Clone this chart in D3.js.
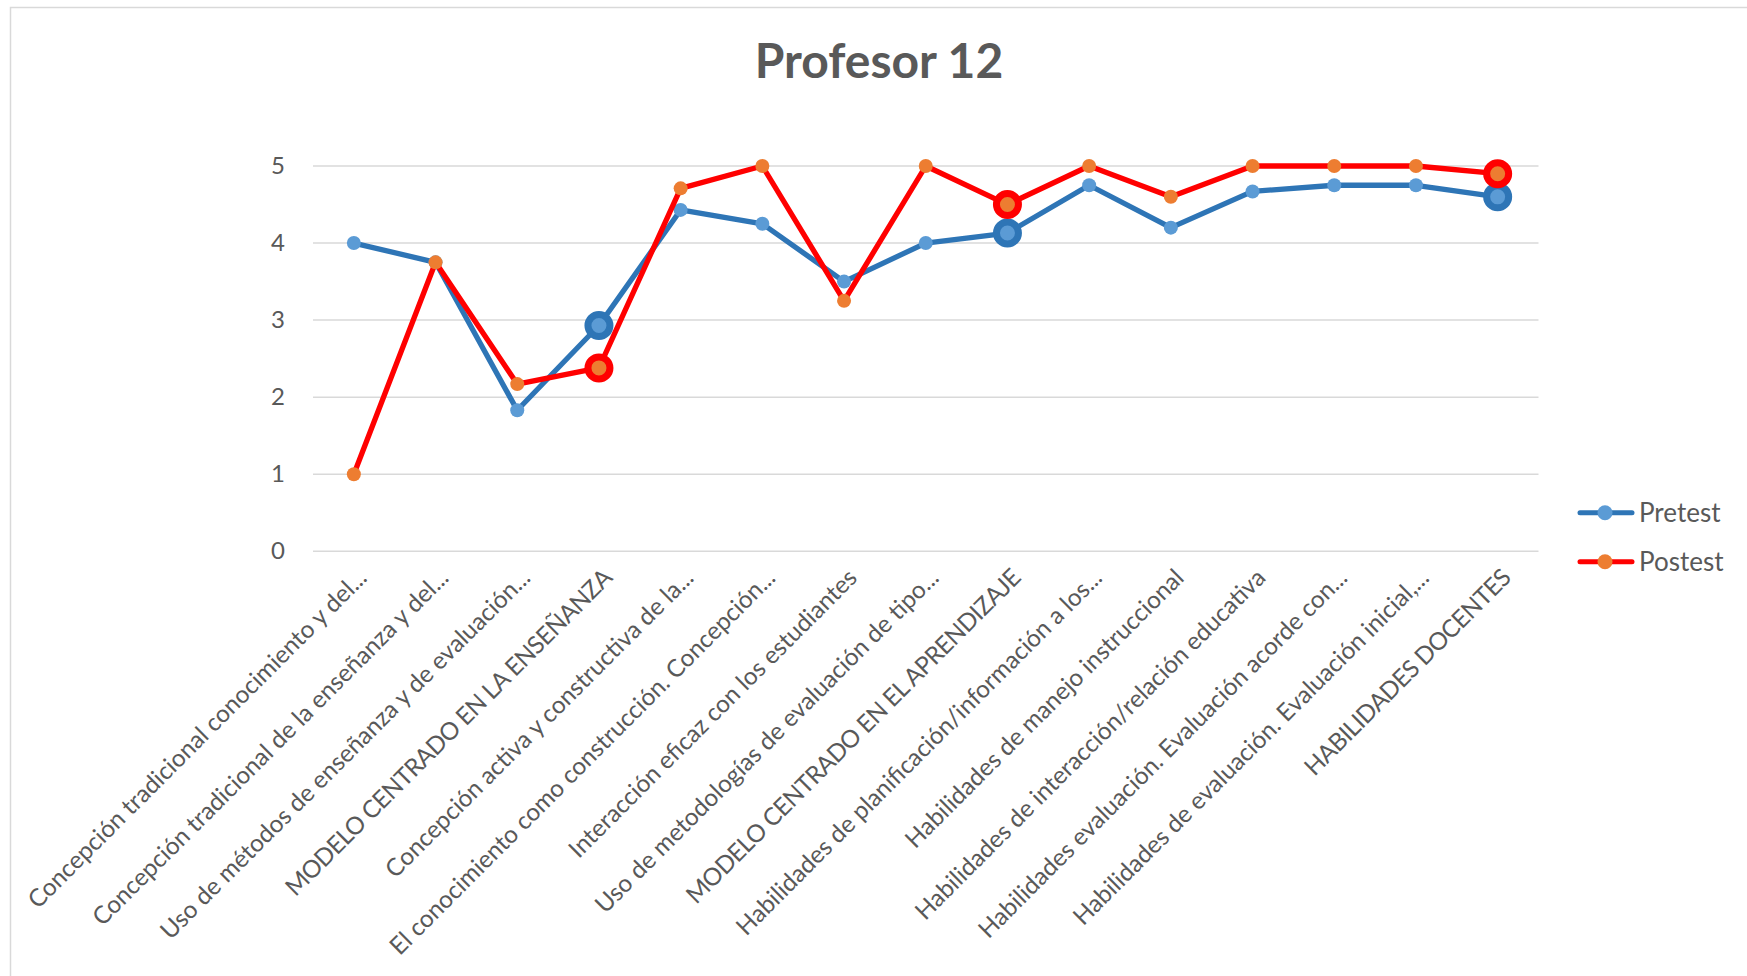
<!DOCTYPE html>
<html>
<head>
<meta charset="utf-8">
<script src="https://cdn.jsdelivr.net/npm/d3@7"></script>
<style>
  html, body { margin: 0; padding: 0; background: #fff; }
  svg { display: block; font-family: Lato, "Open Sans", sans-serif; }
</style>
</head>
<body>
<svg id="chart" width="1747" height="976"></svg>
<script>
const categories = [
  "Concepción tradicional conocimiento y del...",
  "Concepción tradicional de la enseñanza y del...",
  "Uso de métodos de enseñanza y de evaluación...",
  "MODELO CENTRADO EN LA ENSEÑANZA",
  "Concepción activa y constructiva de la...",
  "El conocimiento como construcción. Concepción...",
  "Interacción eficaz con los estudiantes",
  "Uso de metodologías de evaluación de tipo...",
  "MODELO CENTRADO EN EL APRENDIZAJE",
  "Habilidades de planificación/información a los...",
  "Habilidades de manejo instruccional",
  "Habilidades de interacción/relación educativa",
  "Habilidades evaluación. Evaluación acorde con...",
  "Habilidades de evaluación. Evaluación inicial,...",
  "HABILIDADES DOCENTES"
];
const pretest  = [4, 3.75, 1.83, 2.93, 4.43, 4.25, 3.5, 4, 4.13, 4.75, 4.2, 4.67, 4.75, 4.75, 4.6];
const postest  = [1, 3.75, 2.17, 2.38, 4.71, 5, 3.25, 5, 4.5, 5, 4.6, 5, 5, 5, 4.9];
const highlighted = [
  "MODELO CENTRADO EN LA ENSEÑANZA",
  "MODELO CENTRADO EN EL APRENDIZAJE",
  "HABILIDADES DOCENTES"
];
const yTicks = [0, 1, 2, 3, 4, 5];
const seriesNames = ["Pretest", "Postest"];
const title = "Profesor 12";

const svg = d3.select("#chart");
const W = 1747, H = 976;

// chart border
svg.append("rect")
  .attr("x", 10.5).attr("y", 7.5)
  .attr("width", W + 20).attr("height", H + 20)
  .attr("fill", "#fff").attr("stroke", "#D9D9D9").attr("stroke-width", 1.5);

const plot = { left: 313, right: 1538.5, top: 166, bottom: 551.3 };

const x = d3.scalePoint().domain(categories).range([plot.left, plot.right]).padding(0.5);
const y = d3.scaleLinear().domain([0, 5]).range([plot.bottom, plot.top]);

// title
svg.append("text")
  .attr("x", 879).attr("y", 78)
  .attr("text-anchor", "middle")
  .attr("font-size", 48).attr("font-weight", 700)
  .attr("fill", "#595959")
  .text(title);

// gridlines
svg.append("g").selectAll("line").data(yTicks).join("line")
  .attr("x1", plot.left).attr("x2", plot.right)
  .attr("y1", d => y(d)).attr("y2", d => y(d))
  .attr("stroke", "#D9D9D9").attr("stroke-width", 1.5);

// y axis labels
const yAxis = d3.axisLeft(y).tickValues(yTicks).tickSize(0).tickPadding(0).tickFormat(d3.format("d"));
const gy = svg.append("g").attr("transform", `translate(${plot.left - 28},0)`).call(yAxis);
gy.select(".domain").remove();
gy.selectAll("text").attr("font-size", 24).attr("fill", "#595959")
  .attr("font-family", "Lato, sans-serif");

// x axis labels
const xAxis = d3.axisBottom(x).tickSize(0).tickPadding(0);
const gx = svg.append("g").attr("transform", `translate(0,${plot.bottom})`).call(xAxis);
gx.select(".domain").remove();
gx.selectAll(".tick text")
  .attr("font-size", 24.3).attr("fill", "#595959")
  .attr("font-family", "Lato, sans-serif")
  .attr("text-anchor", "end")
  .attr("dy", "0.35em")
  .attr("letter-spacing", d => d === d.toUpperCase() ? -0.6 : 0)
  .attr("transform", "translate(8,22) rotate(-45)");

const series = [
  { name: seriesNames[0], values: pretest, line: "#2E75B6", marker: "#5B9BD5" },
  { name: seriesNames[1], values: postest, line: "#FF0000", marker: "#ED7D31" }
];

const lineGen = d3.line().x((d, i) => x(categories[i])).y(d => y(d));

series.forEach(s => {
  const g = svg.append("g");
  g.append("path")
    .attr("d", lineGen(s.values))
    .attr("fill", "none").attr("stroke", s.line)
    .attr("stroke-width", 5.3).attr("stroke-linejoin", "round").attr("stroke-linecap", "round");
  g.selectAll("circle").data(s.values).join("circle")
    .attr("cx", (d, i) => x(categories[i]))
    .attr("cy", d => y(d))
    .attr("r", (d, i) => highlighted.includes(categories[i]) ? 11 : 7)
    .attr("fill", s.marker)
    .attr("stroke", (d, i) => highlighted.includes(categories[i]) ? s.line : "none")
    .attr("stroke-width", (d, i) => highlighted.includes(categories[i]) ? 7 : 0);
});

// legend
const legend = svg.append("g");
series.forEach((s, i) => {
  const ly = 512.7 + i * 49;
  legend.append("line")
    .attr("x1", 1580).attr("x2", 1632).attr("y1", ly).attr("y2", ly)
    .attr("stroke", s.line).attr("stroke-width", 5).attr("stroke-linecap", "round");
  legend.append("circle").attr("cx", 1605).attr("cy", ly).attr("r", 7.5).attr("fill", s.marker);
  legend.append("text")
    .attr("x", 1639).attr("y", ly + 9)
    .attr("font-size", 26).attr("fill", "#595959")
    .text(s.name);
});
</script>
</body>
</html>
